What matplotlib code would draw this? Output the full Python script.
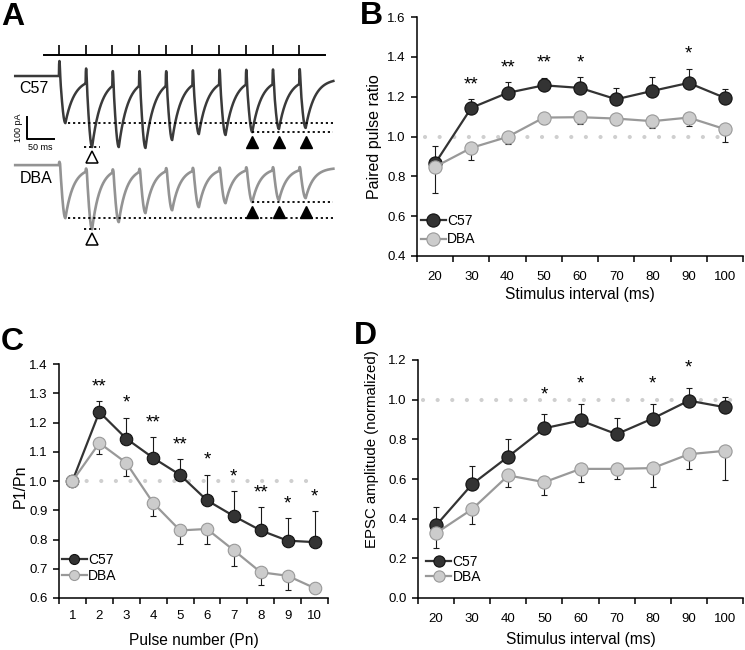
import numpy as np
import matplotlib.pyplot as plt

plt.rcParams['font.family'] = ['Liberation Sans', 'DejaVu Sans']

# A: 20 Hz train, trough of each EPSC in pA
pulse_t = [0, 50, 100, 150, 200, 250, 300, 350, 400, 450]
c57_peak = [-214, -323, -323, -327, -291, -264, -268, -255, -241, -236]
dba_peak = [-241, -291, -259, -218, -205, -191, -173, -168, -159, -150]

# B: paired pulse ratio
intervals = ['20', '30', '40', '50', '60', '70', '80', '90', '100']
ppr_c57 = [0.865, 1.144, 1.219, 1.257, 1.244, 1.187, 1.229, 1.269, 1.194]
ppr_c57_err = [0.088, 0.042, 0.055, 0.039, 0.053, 0.057, 0.070, 0.072, 0.042]
ppr_dba = [0.848, 0.943, 0.998, 1.095, 1.097, 1.090, 1.077, 1.095, 1.037]
ppr_dba_err = [0.134, 0.059, 0.034, 0.034, 0.036, 0.033, 0.032, 0.042, 0.065]
ppr_sig = ['', '**', '**', '**', '*', '', '', '*', '']

# C: P1/Pn
pulses = ['1', '2', '3', '4', '5', '6', '7', '8', '9', '10']
p1pn_c57 = [1.0, 1.236, 1.145, 1.079, 1.021, 0.934, 0.880, 0.831, 0.796, 0.791]
p1pn_c57_err = [0.0, 0.037, 0.072, 0.070, 0.054, 0.088, 0.086, 0.080, 0.078, 0.105]
p1pn_dba = [1.0, 1.130, 1.062, 0.925, 0.831, 0.836, 0.763, 0.688, 0.676, 0.634]
p1pn_dba_err = [0.0, 0.038, 0.046, 0.044, 0.046, 0.050, 0.055, 0.042, 0.050, 0.0]
p1pn_sig = ['', '**', '*', '**', '**', '*', '*', '**', '*', '*']

# D: normalized EPSC amplitude
amp_c57 = [0.366, 0.574, 0.713, 0.856, 0.895, 0.826, 0.905, 0.995, 0.962]
amp_c57_err = [0.091, 0.094, 0.089, 0.070, 0.082, 0.084, 0.075, 0.066, 0.053]
amp_dba = [0.327, 0.448, 0.618, 0.584, 0.651, 0.651, 0.655, 0.725, 0.742]
amp_dba_err = [0.075, 0.074, 0.059, 0.063, 0.067, 0.050, 0.093, 0.074, 0.146]
amp_sig = ['', '', '', '*', '*', '', '*', '*', '']

DARK = '#333333'
LIGHT = '#999999'
W, H = 745, 650

fig = plt.figure(figsize=(W / 100, H / 100), dpi=100)


def px_axes(l, t, r, b):
    return fig.add_axes([l / W, 1 - b / H, (r - l) / W, (b - t) / H])


def epsc_train(peaks, art, delay=2, rise=10, tau=17, resid=-10):
    t = np.arange(-82, 514, 0.2)
    y = np.zeros_like(t)
    level = 0.0
    for k, t0 in enumerate(pulse_t):
        t1 = pulse_t[k + 1] if k + 1 < len(pulse_t) else t[-1] + 1
        m = (t >= t0) & (t < t1)
        dt = t[m] - t0
        fall = level + (peaks[k] - level) * np.sin(np.pi / 2 * np.clip((dt - delay) / rise, 0, 1))
        back = resid + (peaks[k] - resid) * np.exp(-(dt - delay - rise) / tau)
        seg = np.where(dt < delay + rise, fall, back)
        level = seg[-1]
        y[m] = seg + art * np.exp(-((dt - 0.8) / 1.2) ** 2)
    return t, y


# ---------------- A ----------------
axA = px_axes(0, 0, 360, 320)
axA.set_xlim(-110.5, 563.7)
axA.set_ylim(-1109, 345.5)
axA.axis('off')

dba_off = -405
axA.plot([-28, 498], [95, 95], color='k', lw=1.4)
axA.vlines(pulse_t, 95, 141, color='k', lw=1.2)

t, y = epsc_train(c57_peak, 68, tau=17, resid=-12)
axA.plot(t, y, color='#3a3a3a', lw=1.8)
t, y = epsc_train(dba_peak, 15, tau=15, resid=-12)
axA.plot(t, y + dba_off, color='#939393', lw=1.9)

dot = dict(color='k', lw=1.3, dashes=(1.2, 1.6))
tr = [p + 12 for p in pulse_t]
for off, pk in [(0, c57_peak), (dba_off, dba_peak)]:
    axA.plot([17, 513], [pk[0] + off] * 2, **dot)
    axA.plot([361, 513], [pk[7] + off] * 2, **dot)
    axA.plot([46, 77], [pk[1] + off] * 2, **dot)
    axA.plot(tr[1], pk[1] + off - 47, marker='^', ms=8.5, mfc='white', mec='k', mew=1.1)
    axA.plot(tr[7:], [pk[7] + off - 45] * 3, ls='none', marker='^', ms=8.5, mfc='k', mec='k')

axA.plot([-60, -60, -10], [-187, -287, -287], color='k', lw=1.4)
axA.text(-76, -237, '100 pA', rotation=90, ha='center', va='center', fontsize=6.5)
axA.text(-35, -325, '50 ms', ha='center', va='center', fontsize=6.5)
axA.text(-74, -55, 'C57', ha='left', va='center', fontsize=11.5)
axA.text(-74, -465, 'DBA', ha='left', va='center', fontsize=11.5)


# ---------------- B, C, D ----------------
def curve_panel(ax, labels, c57, c57_err, dba, dba_err, sig, ylim, ystep,
                ref_span, star_pt, ms):
    n = len(labels)
    x = np.arange(n)
    ax.plot(ref_span, [1.0, 1.0], color='#cfcfcf', lw=3, dashes=(0.01, 3.5),
            dash_capstyle='round', zorder=1)
    ax.errorbar(x, c57, yerr=[np.zeros(n), c57_err], fmt='none', ecolor='#1a1a1a',
                elinewidth=0.8, capsize=2, capthick=0.8, zorder=2)
    ax.errorbar(x, dba, yerr=[dba_err, np.zeros(n)], fmt='none', ecolor='#1a1a1a',
                elinewidth=0.8, capsize=2, capthick=0.8, zorder=2)
    ax.plot(x, c57, '-o', color=DARK, lw=1.6, ms=ms, mfc=DARK, mec='#111111',
            mew=0.8, label='C57', zorder=3)
    ax.plot(x, dba, '-o', color=LIGHT, lw=1.6, ms=ms, mfc='#cccccc', mec=LIGHT,
            mew=0.8, label='DBA', zorder=4)
    for i, s in enumerate(sig):
        if s:
            ax.annotate(s, (x[i], c57[i] + c57_err[i]), xytext=(0, star_pt),
                        textcoords='offset points', ha='center', va='baseline',
                        fontsize=13.5)
    ax.set_xlim(-0.5, n - 0.5)
    ax.set_ylim(*ylim)
    ax.set_yticks(np.arange(ylim[0], ylim[1] + 1e-6, ystep))
    ax.yaxis.set_major_formatter(plt.FormatStrFormatter('%.1f'))
    ax.set_xticks(np.arange(n + 1) - 0.5)
    ax.set_xticklabels([])
    ax.set_xticks(x, minor=True)
    ax.set_xticklabels(labels, minor=True)
    for side in ['top', 'right']:
        ax.spines[side].set_visible(False)
    for side in ['left', 'bottom']:
        ax.spines[side].set_linewidth(1.1)
    ax.tick_params(which='major', direction='out', length=4, width=1.1, labelsize=9.5, pad=4)
    ax.tick_params(axis='x', which='minor', length=0, labelsize=9.5)


axB = px_axes(417, 17, 743, 256)
curve_panel(axB, intervals, ppr_c57, ppr_c57_err, ppr_dba, ppr_dba_err, ppr_sig,
            (0.4, 1.6), 0.2, [-0.28, 8.2], 7, 9.5)
axB.tick_params(axis='x', which='minor', pad=11)
axB.set_xlabel('Stimulus interval (ms)', fontsize=11.2)
axB.xaxis.set_label_coords(0.5, -0.13)
axB.set_ylabel('Paired pulse ratio', fontsize=11.5, va='center')
axB.yaxis.set_label_coords(-0.129, 0.5)
axB.legend(loc='lower left', bbox_to_anchor=(0.012, 0.04), borderaxespad=0, borderpad=0,
           frameon=False, fontsize=10, handlelength=1.8, handletextpad=0.1, labelspacing=0.35)

axC = px_axes(59, 364, 328, 598)
curve_panel(axC, pulses, p1pn_c57, p1pn_c57_err, p1pn_dba, p1pn_dba_err, p1pn_sig,
            (0.6, 1.4), 0.1, [0, 9], 7, 9)
axC.tick_params(axis='x', which='minor', pad=8.5)
axC.set_xlabel('Pulse number (Pn)', fontsize=11.2)
axC.xaxis.set_label_coords(0.5, -0.15)
axC.set_ylabel('P1/Pn', fontsize=11.5, va='center')
axC.yaxis.set_label_coords(-0.145, 0.476)
axC.legend(loc='lower left', bbox_to_anchor=(0.01, 0.065), borderaxespad=0, borderpad=0,
           frameon=False, fontsize=10, handlelength=1.8, handletextpad=0.1, labelspacing=0.15,
           markerscale=0.8)

axD = px_axes(418, 360, 743, 598)
curve_panel(axD, intervals, amp_c57, amp_c57_err, amp_dba, amp_dba_err, amp_sig,
            (0.0, 1.2), 0.2, [-0.36, 8.23], 11, 9.5)
axD.tick_params(axis='x', which='minor', pad=11)
axD.set_xlabel('Stimulus interval (ms)', fontsize=11.2)
axD.xaxis.set_label_coords(0.5, -0.143)
axD.set_ylabel('EPSC amplitude (normalized)', fontsize=10.8, va='center')
axD.yaxis.set_label_coords(-0.1415, 0.627)
axD.legend(loc='lower left', bbox_to_anchor=(0.025, 0.06), borderaxespad=0, borderpad=0,
           frameon=False, fontsize=10, handlelength=1.8, handletextpad=0.1, labelspacing=0.05,
           markerscale=0.85)

# panel letters
for s, xp, yp in [('A', 1, 2), ('B', 360, 1), ('C', 1, 327), ('D', 354, 321)]:
    fig.text(xp / W, 1 - yp / H, s, fontsize=23, fontweight='bold', ha='left', va='top')

fig.savefig('out.png', dpi=100)
